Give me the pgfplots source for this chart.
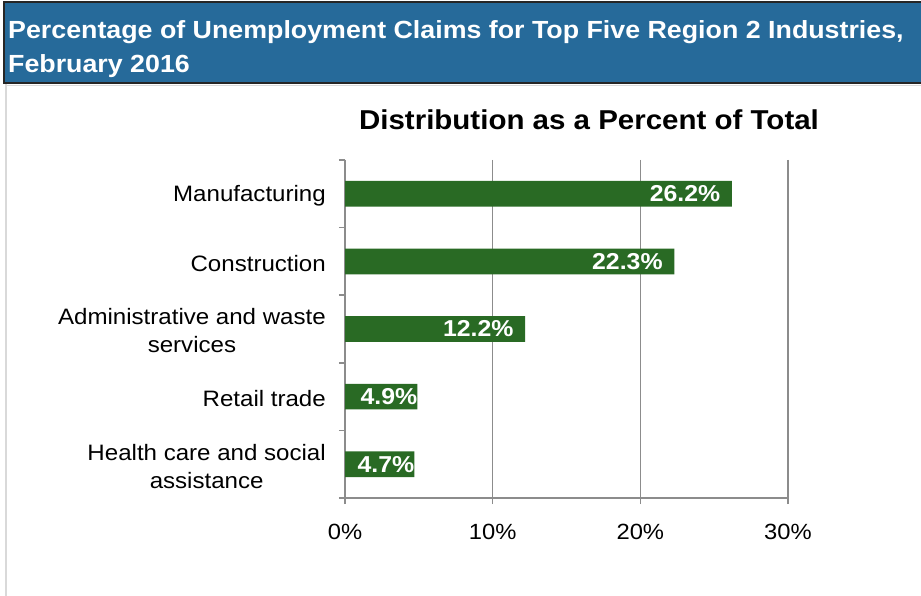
\documentclass[border=0pt]{standalone}
\usepackage{fontspec}
\setmainfont{Liberation Sans}[FakeStretch=1.08]
\usepackage{pgfplots}
\pgfplotsset{compat=1.18}
\definecolor{headblue}{RGB}{38,106,154}
\definecolor{bargreen}{RGB}{41,106,36}
\definecolor{axgray}{RGB}{140,140,140}
\begin{document}
\begin{tikzpicture}[x=1pt,y=1pt]
\useasboundingbox (0,0) rectangle (921,596);
% header band
\fill[white] (0,0) rectangle (921,596);
\draw[gray!30, line width=2pt] (6,0) -- (6,512);
\draw[gray!30, line width=1pt] (6,510) -- (921,510);
\filldraw[fill=headblue, draw=black!85, line width=2pt] (4,513) rectangle (930,594);
\node[anchor=base west, inner sep=0pt, text=white, font=\bfseries\fontsize{24.8}{30}\selectfont]
  at (8,557) {Percentage of Unemployment Claims for Top Five Region 2 Industries,};
\node[anchor=base west, inner sep=0pt, text=white, font=\bfseries\fontsize{24.8}{30}\selectfont]
  at (8,523) {February 2016};
\node[anchor=base, inner sep=0pt, font=\bfseries\fontsize{27.3}{32}\selectfont]
  at (589,466) {Distribution as a Percent of Total};

\begin{axis}[
    at={(345pt,98pt)}, anchor=south west,
    scale only axis, width=443pt, height=338pt,
    xbar, bar width=25.7pt,
    xmin=0, xmax=30, ymin=0.5, ymax=5.5,
    y dir=reverse,
    axis lines*=left,
    axis line style={axgray, line width=1.5pt},
    xmajorgrids, grid style={axgray, line width=1.5pt},
    tick align=outside,
    major tick length=6pt,
    every tick/.style={axgray, line width=1.5pt},
    xtick={0,10,20,30}, xticklabels={0\%,10\%,20\%,30\%},
    xticklabel style={font=\fontsize{22}{26}\selectfont, inner sep=0pt, yshift=-20pt},
    ytick={0.5,1.5,2.5,3.5,4.5,5.5}, yticklabels={},
    extra y ticks={1,2,3,4,5},
    extra y tick labels={Manufacturing, Construction, {Administrative and waste\\services}, Retail trade, {Health care and social\\assistance}},
    extra y tick style={tick style={draw=none}, grid=none,
        yticklabel style={font=\fontsize{22.3}{28}\selectfont, align=center, inner sep=0pt, xshift=-13pt, yshift=-2pt}},
    /pgf/number format/assume math mode=true,
    nodes near coords={\pgfmathprintnumber[fixed,precision=1,fixed zerofill]{\pgfplotspointmeta}\%},
    nodes near coords align={anchor=east},
    visualization depends on={x \as \rawx},
    every node near coord/.append style={text=white, inner sep=0pt,
        font=\bfseries\fontsize{23}{27}\selectfont,
        xshift={ifthenelse(\rawx<10,0,-11.5)*1pt}},
  ]
  \addplot[fill=bargreen, draw=none] coordinates {
    (26.2,1) (22.3,2) (12.2,3) (4.9,4) (4.7,5)
  };
\end{axis}
\end{tikzpicture}
\end{document}
